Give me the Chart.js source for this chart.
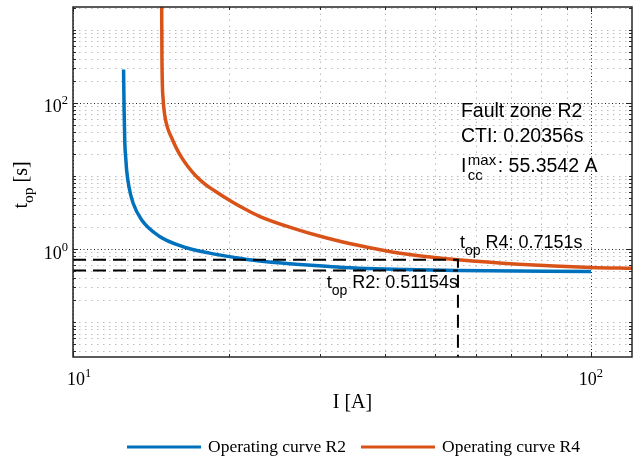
<!DOCTYPE html>
<html>
<head>
<meta charset="utf-8">
<script src="https://cdn.jsdelivr.net/npm/chart.js@4.4.0/dist/chart.umd.min.js"></script>
<style>
  html, body { margin: 0; padding: 0; background: #fff; }
</style>
</head>
<body>
<canvas id="myChart" width="643" height="460"></canvas>
<script>
// operating curves (current in A, time in s)
const currentR2 = [12.52, 12.55, 12.59, 12.65, 12.69, 12.82, 13.06, 13.56, 14.70, 16.28, 18.35, 20.96, 23.41, 26.94, 31.23, 35.67, 55.3542, 100];
const timeR2 = [286, 80.9, 28.3, 16.7, 12.2, 7.2, 4.27, 2.52, 1.488, 1.085, 0.882, 0.753, 0.676, 0.623, 0.581, 0.549, 0.51154, 0.493];

const currentR4 = [14.83, 14.85, 14.93, 15.03, 15.20, 15.56, 15.85, 16.19, 16.65, 17.25, 17.95, 18.76, 20.34, 21.52, 22.90, 26.54, 30.77, 35.67, 41.33, 47.92, 55.3542, 72.46, 100, 120];
const timeR4 = [2600, 392, 111, 69.1, 47.4, 31.4, 23.7, 18.1, 13.6, 10.1, 7.84, 6.29, 4.38, 3.51, 2.81, 1.94, 1.43, 1.12, 0.913, 0.794, 0.7151, 0.623, 0.561, 0.546];

// fault values shown in the annotations
const faultCurrent = 55.3542;
const topR2 = 0.51154;
const topR4 = 0.7151;
const cti = 0.20356;

// axes
const xLimits = [10, 120];
const yLimits = [0.0335, 2050];
const xMajorTicks = [10, 100];
const yMajorTicks = [1, 100];
const xTickLabels = ['10', '10'];
const xTickExp = ['1', '2'];
const yTickLabels = ['10', '10'];
const yTickExp = ['0', '2'];
const legendLabels = ['Operating curve R2', 'Operating curve R4'];

const blue = '#0072BD';
const orange = '#D95319';
const serif = '"Liberation Serif", "Times New Roman", serif';
const sans = '"Liberation Sans", Arial, Helvetica, sans-serif';

function toPoints(xs, ys) {
    return xs.map((x, i) => ({ x: x, y: ys[i] }));
}

// minor ticks 2..9 in every decade, plus the decades that carry no label
function minorTicks(min, max, majors) {
    let out = [];
    for (let e = -3; e <= 4; e++) {
        for (let m = 1; m <= 9; m++) {
            let v = m * Math.pow(10, e);
            if (v > min && v < max && majors.indexOf(v) < 0) out.push(v);
        }
    }
    return out;
}

// draws text pieces one after another, each with its own size and baseline shift
function drawRich(ctx, parts, x, y, align) {
    let total = 0;
    parts.forEach(p => {
        ctx.font = p.size + 'px ' + p.font;
        p.w = ctx.measureText(p.text).width;
        total += p.w;
    });
    let cx = x;
    if (align === 'center') cx = x - total / 2;
    if (align === 'right') cx = x - total;
    ctx.textAlign = 'left';
    ctx.textBaseline = 'alphabetic';
    parts.forEach(p => {
        ctx.font = p.size + 'px ' + p.font;
        ctx.fillText(p.text, cx, y + (p.dy || 0));
        cx += p.w;
    });
}

const framePlugin = {
    id: 'frame',
    beforeDatasetsDraw(chart) {
        const ctx = chart.ctx;
        const a = chart.chartArea;
        const xs = chart.scales.x;
        const ys = chart.scales.y;
        ctx.save();
        ctx.lineWidth = 1;
        // minor grid
        ctx.strokeStyle = '#bdbdbd';
        ctx.setLineDash([1.5, 4.5]);
        minorTicks(xLimits[0], xLimits[1], xMajorTicks).forEach(v => {
            let px = Math.round(xs.getPixelForValue(v)) + 0.5;
            ctx.beginPath(); ctx.moveTo(px, a.bottom); ctx.lineTo(px, a.top); ctx.stroke();
        });
        minorTicks(yLimits[0], yLimits[1], yMajorTicks).forEach(v => {
            let py = Math.round(ys.getPixelForValue(v)) + 0.5;
            ctx.beginPath(); ctx.moveTo(a.left, py); ctx.lineTo(a.right, py); ctx.stroke();
        });
        // major grid
        ctx.strokeStyle = '#222';
        ctx.setLineDash([1, 2.5]);
        xMajorTicks.forEach(v => {
            let px = Math.round(xs.getPixelForValue(v)) + 0.5;
            ctx.beginPath(); ctx.moveTo(px, a.bottom); ctx.lineTo(px, a.top); ctx.stroke();
        });
        yMajorTicks.forEach(v => {
            let py = Math.round(ys.getPixelForValue(v)) + 0.5;
            ctx.beginPath(); ctx.moveTo(a.left, py); ctx.lineTo(a.right, py); ctx.stroke();
        });
        ctx.restore();
    },
    afterDatasetsDraw(chart) {
        const ctx = chart.ctx;
        const a = chart.chartArea;
        const xs = chart.scales.x;
        const ys = chart.scales.y;
        ctx.save();
        ctx.setLineDash([]);
        ctx.strokeStyle = '#262626';

        // ticks on all four sides, pointing in
        ctx.lineWidth = 1;
        const tick = (v, len, horiz) => {
            if (horiz) {
                let px = Math.round(xs.getPixelForValue(v)) + 0.5;
                ctx.beginPath();
                ctx.moveTo(px, a.bottom); ctx.lineTo(px, a.bottom - len);
                ctx.moveTo(px, a.top); ctx.lineTo(px, a.top + len);
                ctx.stroke();
            } else {
                let py = Math.round(ys.getPixelForValue(v)) + 0.5;
                ctx.beginPath();
                ctx.moveTo(a.left, py); ctx.lineTo(a.left + len, py);
                ctx.moveTo(a.right, py); ctx.lineTo(a.right - len, py);
                ctx.stroke();
            }
        };
        minorTicks(xLimits[0], xLimits[1], xMajorTicks).forEach(v => tick(v, 3, true));
        xMajorTicks.forEach(v => tick(v, 5, true));
        minorTicks(yLimits[0], yLimits[1], yMajorTicks).forEach(v => tick(v, 3, false));
        yMajorTicks.forEach(v => tick(v, 5, false));

        // box
        ctx.lineWidth = 1.5;
        ctx.strokeRect(a.left, a.top, a.right - a.left, a.bottom - a.top);

        ctx.fillStyle = '#000';
        // x tick labels
        xMajorTicks.forEach((v, i) => {
            let px = xs.getPixelForValue(v);
            if (i === 0) px += 6;
            drawRich(ctx, [
                { text: xTickLabels[i], size: 18, font: serif },
                { text: xTickExp[i], size: 12.5, font: serif, dy: -8 }
            ], px, 385, 'center');
        });
        // y tick labels
        yMajorTicks.forEach((v, i) => {
            let py = ys.getPixelForValue(v);
            drawRich(ctx, [
                { text: yTickLabels[i], size: 18, font: serif },
                { text: yTickExp[i], size: 12.5, font: serif, dy: -8 }
            ], a.left - 5, py + 9.5, 'right');
        });

        // axis titles
        drawRich(ctx, [{ text: 'I [A]', size: 20, font: serif }], (a.left + a.right) / 2, 408, 'center');
        ctx.save();
        ctx.translate(27, 185);
        ctx.rotate(-Math.PI / 2);
        drawRich(ctx, [
            { text: 't', size: 20, font: serif },
            { text: 'op', size: 15.5, font: serif, dy: 6 },
            { text: ' [s]', size: 20, font: serif }
        ], 0, 0, 'center');
        ctx.restore();

        // annotations
        const fx = xs.getPixelForValue(faultCurrent);
        drawRich(ctx, [
            { text: 't', size: 18, font: sans },
            { text: 'op', size: 14, font: sans, dy: 7 },
            { text: ' R4: ' + topR4 + 's', size: 18, font: sans }
        ], fx + 2, ys.getPixelForValue(topR4) - 12, 'left');
        drawRich(ctx, [
            { text: 't', size: 18, font: sans },
            { text: 'op', size: 14, font: sans, dy: 7 },
            { text: ' R2: ' + topR2 + 's', size: 18, font: sans }
        ], fx, ys.getPixelForValue(topR2) + 17.5, 'right');

        drawRich(ctx, [{ text: 'Fault zone R2', size: 19.5, font: sans }], fx + 3, 117, 'left');
        drawRich(ctx, [{ text: 'CTI: ' + cti + 's', size: 19.5, font: sans }], fx + 3, 142, 'left');
        // I_cc^max with stacked sub/superscript
        ctx.font = '19.5px ' + sans;
        ctx.textAlign = 'left';
        ctx.fillText('I', fx + 3, 172);
        let iw = ctx.measureText('I').width;
        ctx.font = '15px ' + sans;
        ctx.fillText('max', fx + 3 + iw + 1.5, 165);
        ctx.fillText('cc', fx + 3 + iw + 1.5, 180);
        let mw = ctx.measureText('max').width;
        ctx.font = '19.5px ' + sans;
        ctx.fillText(': ' + faultCurrent + ' A', fx + 3 + iw + 3 + mw, 172);

        // legend
        const legend = [
            { x: 127, color: blue, label: legendLabels[0] },
            { x: 361, color: orange, label: legendLabels[1] }
        ];
        legend.forEach(l => {
            ctx.strokeStyle = l.color;
            ctx.lineWidth = 3;
            ctx.beginPath(); ctx.moveTo(l.x, 447); ctx.lineTo(l.x + 74, 447); ctx.stroke();
            ctx.fillStyle = '#000';
            drawRich(ctx, [{ text: l.label, size: 17.5, font: serif }], l.x + 81, 452, 'left');
        });
        ctx.restore();
    }
};

const ctx = document.getElementById('myChart');
const myChart = new Chart(ctx, {
    type: 'line',
    data: {
        datasets: [
            {
                label: 'tR4 marker',
                data: [{ x: xLimits[0], y: topR4 }, { x: faultCurrent, y: topR4 }, { x: faultCurrent, y: yLimits[0] }],
                borderColor: '#000', borderWidth: 2, borderDash: [13, 7], pointRadius: 0, fill: false, clip: 0
            },
            {
                label: 'tR2 marker',
                data: [{ x: xLimits[0], y: topR2 }, { x: faultCurrent, y: topR2 }],
                borderColor: '#000', borderWidth: 2, borderDash: [13, 7], pointRadius: 0, fill: false, clip: 0
            },
            {
                label: legendLabels[0],
                data: toPoints(currentR2, timeR2),
                borderColor: blue, borderWidth: 3.5, pointRadius: 0, fill: false,
                cubicInterpolationMode: 'monotone', clip: 0
            },
            {
                label: legendLabels[1],
                data: toPoints(currentR4, timeR4),
                borderColor: orange, borderWidth: 3.5, pointRadius: 0, fill: false,
                cubicInterpolationMode: 'monotone', clip: 0
            }
        ]
    },
    options: {
        responsive: false,
        animation: false,
        devicePixelRatio: 1,
        layout: { padding: { left: 73, top: 7, right: 11, bottom: 103 } },
        plugins: { legend: { display: false }, tooltip: { enabled: false } },
        scales: {
            x: { type: 'logarithmic', min: xLimits[0], max: xLimits[1], display: false },
            y: { type: 'logarithmic', min: yLimits[0], max: yLimits[1], display: false }
        }
    },
    plugins: [framePlugin]
});
</script>
</body>
</html>
